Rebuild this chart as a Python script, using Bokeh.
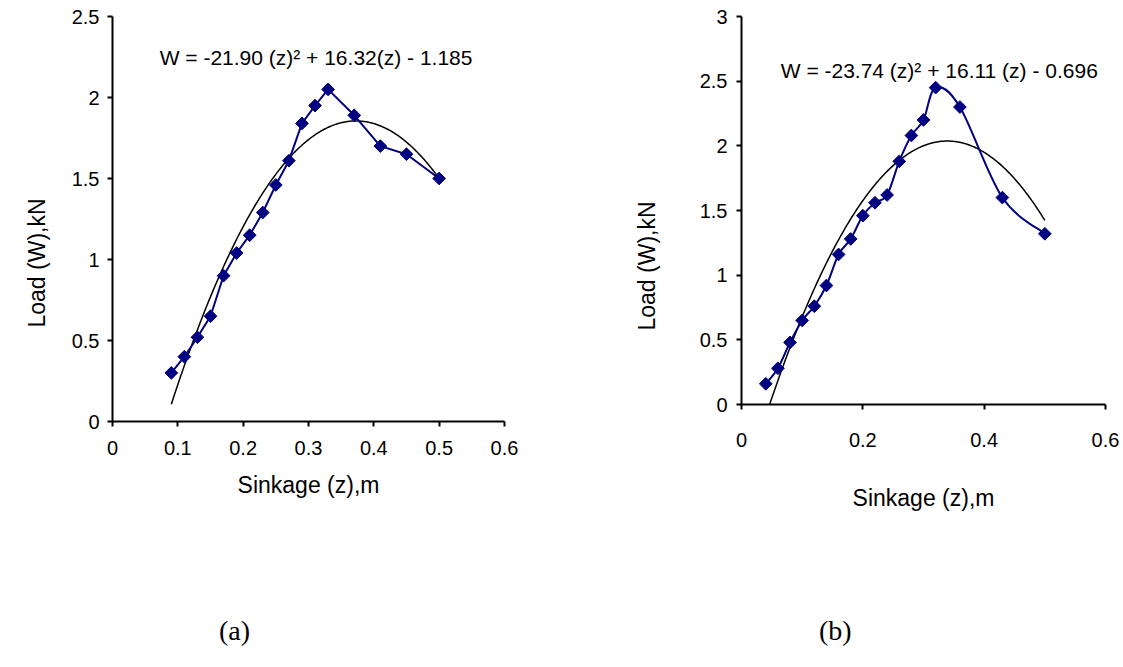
import numpy as np
from bokeh.plotting import figure
from bokeh.models import FixedTicker, Label, Title, Div
from bokeh.layouts import row, column
from bokeh.embed import file_html
from bokeh.resources import INLINE

# ---------------- data ----------------
# Chart (a)
sinkage_a = [0.09, 0.11, 0.13, 0.15, 0.17, 0.19, 0.21, 0.23, 0.25, 0.27, 0.29,
             0.31, 0.33, 0.37, 0.41, 0.45, 0.50]
load_a = [0.30, 0.40, 0.52, 0.65, 0.90, 1.04, 1.15, 1.29, 1.46, 1.61, 1.84,
          1.95, 2.05, 1.89, 1.70, 1.65, 1.50]
fit_coef_a = [-21.90, 16.32, -1.185]
equation_a = "W = -21.90 (z)\u00b2 + 16.32(z)  - 1.185"
x_ticks_a = [0, 0.1, 0.2, 0.3, 0.4, 0.5, 0.6]
x_labels_a = ["0", "0.1", "0.2", "0.3", "0.4", "0.5", "0.6"]
y_ticks_a = [0, 0.5, 1, 1.5, 2, 2.5]
y_labels_a = ["0", "0.5", "1", "1.5", "2", "2.5"]

# Chart (b)
sinkage_b = [0.04, 0.06, 0.08, 0.10, 0.12, 0.14, 0.16, 0.18, 0.20, 0.22, 0.24,
             0.26, 0.28, 0.30, 0.32, 0.36, 0.43, 0.50]
load_b = [0.16, 0.28, 0.48, 0.65, 0.76, 0.92, 1.16, 1.28, 1.46, 1.56, 1.62,
          1.88, 2.08, 2.20, 2.45, 2.30, 1.60, 1.32]
fit_coef_b = [-23.74, 16.11, -0.696]
equation_b = "W = -23.74 (z)\u00b2 + 16.11 (z) - 0.696"
x_ticks_b = [0, 0.2, 0.4, 0.6]
x_labels_b = ["0", "0.2", "0.4", "0.6"]
y_ticks_b = [0, 0.5, 1, 1.5, 2, 2.5, 3]
y_labels_b = ["0", "0.5", "1", "1.5", "2", "2.5", "3"]

x_title = "Sinkage (z),m"
y_title = "Load (W),kN"
caption_a = "(a)"
caption_b = "(b)"

NAVY = "#000080"
FONT = "Liberation Sans"
TICK_SIZE = "20px"
TITLE_SIZE = "23px"
EQ_SIZE = "21px"
FIG_H = 600


def style(p, xt, xl, yt, yl, x_lab_st, x_title_st, y_lab_st):
    p.outline_line_color = None
    p.xgrid.visible = False
    p.ygrid.visible = False
    p.background_fill_color = "white"
    p.border_fill_color = "white"
    for ax, ticks, labels in ((p.xaxis[0], xt, xl), (p.yaxis[0], yt, yl)):
        ax.ticker = FixedTicker(ticks=ticks)
        ax.major_label_overrides = {t: s for t, s in zip(ticks, labels)}
        ax.minor_tick_line_color = None
        ax.major_tick_in = 0
        ax.major_tick_out = 5
        ax.major_tick_line_width = 2
        ax.major_tick_line_color = "black"
        ax.axis_line_width = 2
        ax.axis_line_color = "black"
        ax.major_label_text_font = FONT
        ax.major_label_text_font_size = TICK_SIZE
        ax.major_label_text_color = "black"
        ax.axis_label_text_font = FONT
        ax.axis_label_text_font_size = TITLE_SIZE
        ax.axis_label_text_font_style = "normal"
        ax.axis_label_text_color = "black"
    p.xaxis[0].axis_label = x_title
    p.xaxis[0].axis_label_standoff = x_title_st
    p.xaxis[0].major_label_standoff = x_lab_st
    p.yaxis[0].major_label_standoff = y_lab_st


def smooth_segments(xs, ys):
    # Bezier control points (Catmull-Rom style smoothing as in the source chart)
    n = len(xs)
    x0, y0, x1, y1, cx0, cy0, cx1, cy1 = ([] for _ in range(8))
    for i in range(n - 1):
        xm, ym = (xs[i - 1], ys[i - 1]) if i > 0 else (xs[i], ys[i])
        xp, yp = (xs[i + 2], ys[i + 2]) if i + 2 < n else (xs[i + 1], ys[i + 1])
        x0.append(xs[i]); y0.append(ys[i])
        x1.append(xs[i + 1]); y1.append(ys[i + 1])
        cx0.append(xs[i] + (xs[i + 1] - xm) / 6.0)
        cy0.append(ys[i] + (ys[i + 1] - ym) / 6.0)
        cx1.append(xs[i + 1] - (xp - xs[i]) / 6.0)
        cy1.append(ys[i + 1] - (yp - ys[i]) / 6.0)
    return dict(x0=x0, y0=y0, x1=x1, y1=y1, cx0=cx0, cy0=cy0, cx1=cx1, cy1=cy1)


def y_title_obj(offset, standoff):
    return Title(text=y_title, align="left", offset=offset, standoff=standoff,
                 text_font=FONT, text_font_size=TITLE_SIZE,
                 text_font_style="normal", text_color="black")


def caption_div(text, width, left):
    html = ('<div style="margin:0;padding:0;padding-top:12px;padding-left:%dpx;'
            'font-family:\'Liberation Serif\';font-size:28px;line-height:28px;'
            'color:black;">%s</div>' % (left, text))
    return Div(text=html, width=width, height=667 - FIG_H)


# ---------------- chart (a) ----------------
pa = figure(width=561, height=FIG_H, x_range=(0, 0.6), y_range=(0, 2.5),
            output_backend="svg", toolbar_location=None,
            min_border_left=112, min_border_right=57,
            min_border_top=16, min_border_bottom=FIG_H - 421)
pa.frame_align = False
style(pa, x_ticks_a, x_labels_a, y_ticks_a, y_labels_a, 14, 14, 8)
pa.add_layout(y_title_obj(94, 38), "left")

za = np.linspace(min(sinkage_a), max(sinkage_a), 200)
pa.line(za, np.polyval(fit_coef_a, za), line_color="black", line_width=1.5)
pa.line(sinkage_a, load_a, line_color=NAVY, line_width=2)
pa.scatter(sinkage_a, load_a, marker="square", angle=np.pi / 4, size=9,
           fill_color=NAVY, line_color=NAVY)
pa.add_layout(Label(x=0.316, y=2.248, text=equation_a, text_align="center",
                    text_baseline="middle", text_font=FONT,
                    text_font_size=EQ_SIZE, text_color="black"))

# ---------------- chart (b) ----------------
pb = figure(width=562, height=FIG_H, x_range=(0, 0.6), y_range=(0, 3),
            output_backend="svg", toolbar_location=None,
            min_border_left=180, min_border_right=18,
            min_border_top=16, min_border_bottom=FIG_H - 404)
pb.frame_align = False
style(pb, x_ticks_b, x_labels_b, y_ticks_b, y_labels_b, 23, 35, 9)
pb.add_layout(y_title_obj(74, 74), "left")

zb = np.linspace(min(sinkage_b), max(sinkage_b), 200)
pb.line(zb, np.polyval(fit_coef_b, zb), line_color="black", line_width=1.5)
pb.bezier(line_color=NAVY, line_width=2, **smooth_segments(sinkage_b, load_b))
pb.scatter(sinkage_b, load_b, marker="square", angle=np.pi / 4, size=9,
           fill_color=NAVY, line_color=NAVY)
pb.add_layout(Label(x=0.326, y=2.58, text=equation_b, text_align="center",
                    text_baseline="middle", text_font=FONT,
                    text_font_size=EQ_SIZE, text_color="black"))

layout = column(row(pa, pb),
                row(caption_div(caption_a, 561, 214), caption_div(caption_b, 562, 243)))
open("out.html", "w").write(file_html(layout, INLINE))
